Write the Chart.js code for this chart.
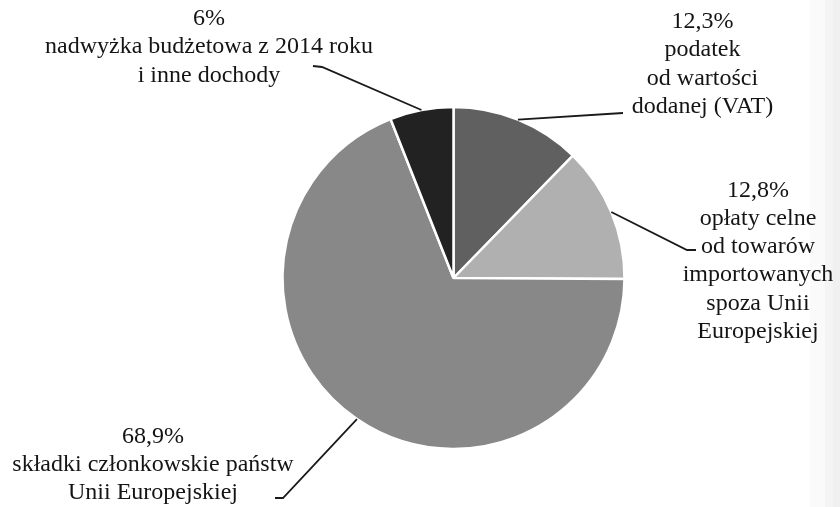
<!DOCTYPE html>
<html>
<head>
<meta charset="utf-8">
<script src="https://cdn.jsdelivr.net/npm/chart.js@4/dist/chart.umd.min.js"></script>
<style>
  html, body { margin: 0; padding: 0; }
  body {
    width: 840px; height: 507px; overflow: hidden;
    background: linear-gradient(to right, #ffffff 0px, #ffffff 810px, #fafafa 810px, #fafafa 825px, #f4f4f4 825px, #f4f4f4 833px, #f0f0f0 833px, #f0f0f0 840px);
  }
  #wrap { position: relative; width: 840px; height: 507px; }
  #fontprobe { position: absolute; left: -9999px; top: 0; font: 24px "Liberation Serif", serif; }
</style>
</head>
<body>
<div id="fontprobe">ąćęłńóśźż Liberation Serif 0123456789</div>
<div id="wrap"><canvas id="c"></canvas></div>
<script>
// ---- data ----
const categories = [
  "podatek od wartości dodanej (VAT)",
  "opłaty celne od towarów importowanych spoza Unii Europejskiej",
  "składki członkowskie państw Unii Europejskiej",
  "nadwyżka budżetowa z 2014 roku i inne dochody"
];
const shares = [12.3, 12.8, 68.9, 6];
const labelLines = [
  ["podatek", "od wartości", "dodanej (VAT)"],
  ["opłaty celne", "od towarów", "importowanych", "spoza Unii", "Europejskiej"],
  ["składki członkowskie państw", "Unii Europejskiej"],
  ["nadwyżka budżetowa z 2014 roku", "i inne dochody"]
];

// ---- styles / layout ----
const sliceColors = ["#606060", "#b0b0b0", "#888888", "#222222"];
const labelLayout = [
  { cx: 702.5, top: 28,    elbow: null,       end: [623, 113] },
  { cx: 758,   top: 196.5, elbow: [687, 250], end: [696, 250] },
  { cx: 153,   top: 442.5, elbow: [283, 498], end: [275, 498] },
  { cx: 209,   top: 25,    elbow: [322, 67],  end: [313, 66] }
];
const lineHeight = 28.3;
const fontSpec = '24px "Liberation Serif"';

function pct(v) { return String(v).replace('.', ',') + '%'; }

const labelPlugin = {
  id: 'pieLabels',
  afterDraw(chart) {
    const ctx = chart.ctx;
    const meta = chart.getDatasetMeta(0);
    ctx.save();
    meta.data.forEach((arc, i) => {
      const p = arc.getProps(['x', 'y', 'startAngle', 'endAngle', 'outerRadius'], true);
      const mid = (p.startAngle + p.endAngle) / 2;
      const sx = p.x + Math.cos(mid) * p.outerRadius;
      const sy = p.y + Math.sin(mid) * p.outerRadius;
      const L = labelLayout[i];
      ctx.strokeStyle = '#1a1a1a';
      ctx.lineWidth = 1.8;
      ctx.beginPath();
      ctx.moveTo(sx, sy);
      if (L.elbow) ctx.lineTo(L.elbow[0], L.elbow[1]);
      ctx.lineTo(L.end[0], L.end[1]);
      ctx.stroke();

      const lines = [pct(shares[i])].concat(labelLines[i]);
      ctx.fillStyle = '#141414';
      ctx.font = fontSpec;
      ctx.textAlign = 'center';
      ctx.textBaseline = 'alphabetic';
      lines.forEach((t, k) => ctx.fillText(t, L.cx, L.top + k * lineHeight));
    });
    ctx.restore();
  }
};

function build() {
  new Chart(document.getElementById('c'), {
    type: 'pie',
    data: {
      labels: categories,
      datasets: [{
        data: shares,
        backgroundColor: sliceColors,
        borderColor: '#ffffff',
        borderWidth: 2.5
      }]
    },
    options: {
      responsive: true,
      maintainAspectRatio: false,
      animation: false,
      radius: 171,
      layout: { padding: { left: 67, right: 0, top: 49, bottom: 0 } },
      plugins: { legend: { display: false }, tooltip: { enabled: false } }
    },
    plugins: [labelPlugin]
  });
}

if (document.fonts && document.fonts.load) {
  document.fonts.load(fontSpec, 'ąćęłńóśźż').then(build, build);
} else {
  build();
}
</script>
</body>
</html>
